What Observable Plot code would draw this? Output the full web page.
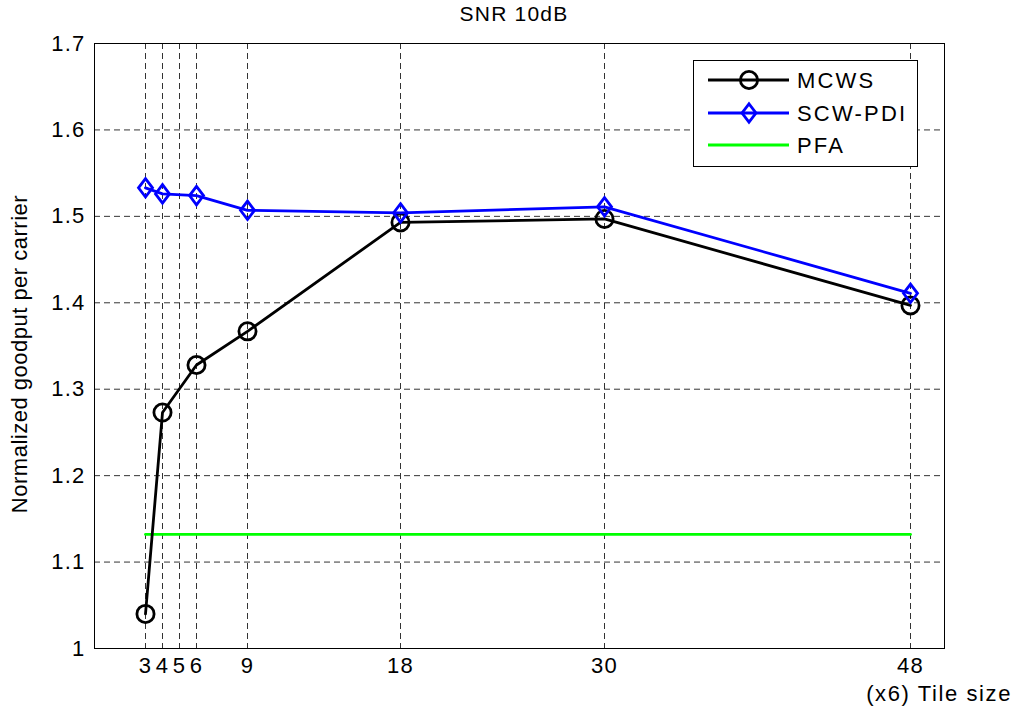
<!DOCTYPE html>
<html>
<head>
<meta charset="utf-8">
<script src="https://cdn.jsdelivr.net/npm/d3@7"></script>
<script src="https://cdn.jsdelivr.net/npm/@observablehq/plot@0.6"></script>
<style>
  html, body { margin: 0; padding: 0; background: #fff; }
  #chart svg { display: block; }
</style>
</head>
<body>
<div id="chart"></div>
<script>
// Tile sizes (in units of 6 subcarriers)
const tileSizes = [3, 4, 6, 9, 18, 30, 48];
const xTicks = [3, 4, 5, 6, 9, 18, 30, 48];
const yTicks = [1, 1.1, 1.2, 1.3, 1.4, 1.5, 1.6, 1.7];

// Normalized goodput per carrier at SNR 10 dB
const mcws   = [1.040, 1.273, 1.328, 1.367, 1.493, 1.497, 1.397];
const scwPdi = [1.533, 1.526, 1.524, 1.507, 1.504, 1.511, 1.411];
const pfa    = 1.132;

const seriesNames = ["MCWS", "SCW-PDI", "PFA"];
const seriesColors = ["#000000", "#0000ff", "#00ff00"];

const mcwsData = tileSizes.map((x, i) => ({x, y: mcws[i]}));
const scwData = tileSizes.map((x, i) => ({x, y: scwPdi[i]}));
const pfaData = [{x: tileSizes[0], y: pfa}, {x: tileSizes[tileSizes.length - 1], y: pfa}];

const W = 1012, H = 715;
const font = "'Liberation Sans', Arial, Helvetica, sans-serif";
const dash = "6,4";
const lw = 2.8;

// Slightly tall diamond marker
const tallDiamond = {
  draw(ctx, size) {
    const r = Math.sqrt(size / Math.PI);
    const hw = 0.875 * r, hh = 1.15 * r;
    ctx.moveTo(0, -hh);
    ctx.lineTo(hw, 0);
    ctx.lineTo(0, hh);
    ctx.lineTo(-hw, 0);
    ctx.closePath();
  }
};

const chart = Plot.plot({
  width: W,
  height: H,
  marginLeft: 94,
  marginRight: 68,
  marginTop: 43,
  marginBottom: 67,
  style: {fontFamily: font, fontSize: "22px", letterSpacing: "1.2px", background: "#fff", color: "#000"},
  x: {domain: [0, 50], ticks: xTicks, tickSize: 0, tickPadding: 9, label: null},
  y: {domain: [1, 1.7], ticks: yTicks, tickSize: 0, tickPadding: 9, label: null,
      tickFormat: d => (Math.round(d * 10) / 10).toString()},
  marks: [
    Plot.ruleY(yTicks.slice(1, -1), {stroke: "#000", strokeWidth: 1, strokeDasharray: dash, strokeOpacity: 0.8}),
    Plot.ruleX(xTicks, {stroke: "#000", strokeWidth: 1, strokeDasharray: dash, strokeOpacity: 0.8}),
    Plot.line(pfaData, {x: "x", y: "y", stroke: seriesColors[2], strokeWidth: lw}),
    Plot.line(mcwsData, {x: "x", y: "y", stroke: seriesColors[0], strokeWidth: lw, curve: "linear"}),
    Plot.dot(mcwsData, {x: "x", y: "y", r: 8.6, stroke: seriesColors[0], strokeWidth: lw, fill: "none"}),
    Plot.line(scwData, {x: "x", y: "y", stroke: seriesColors[1], strokeWidth: lw, curve: "linear"}),
    Plot.dot(scwData, {x: "x", y: "y", r: 8, symbol: tallDiamond, stroke: seriesColors[1], strokeWidth: lw, fill: "none"}),
    Plot.frame({stroke: "#000", strokeWidth: 1})
  ]
});

const svg = d3.select(chart);

// Title and axis captions
svg.append("text").attr("x", 514).attr("y", 21).attr("text-anchor", "middle")
  .style("font-family", font).style("font-size", "21px").style("letter-spacing", "1.2px").text("SNR 10dB");
svg.append("text").attr("transform", "translate(27,354) rotate(-90)").attr("text-anchor", "middle")
  .style("font-family", font).style("font-size", "22px").style("letter-spacing", "0.5px").text("Normalized goodput per carrier");
svg.append("text").attr("x", 1012).attr("y", 701).attr("text-anchor", "end")
  .style("font-family", font).style("font-size", "22px").style("letter-spacing", "1.6px").text("(x6) Tile size");

// Legend box
const lg = svg.append("g");
lg.append("rect").attr("x", 693.5).attr("y", 60.5).attr("width", 224).attr("height", 106)
  .attr("fill", "#fff").attr("stroke", "#000").attr("stroke-width", 1);
const rowsY = [80, 113, 145];
seriesNames.forEach((name, i) => {
  const y = rowsY[i];
  lg.append("line").attr("x1", 708).attr("x2", 789).attr("y1", y).attr("y2", y)
    .attr("stroke", seriesColors[i]).attr("stroke-width", lw);
  if (i === 0) {
    lg.append("circle").attr("cx", 749).attr("cy", y).attr("r", 8.6)
      .attr("fill", "none").attr("stroke", seriesColors[i]).attr("stroke-width", lw);
  } else if (i === 1) {
    lg.append("path").attr("d", `M749,${y - 9.2}L756,${y}L749,${y + 9.2}L742,${y}Z`)
      .attr("fill", "none").attr("stroke", seriesColors[i]).attr("stroke-width", lw);
  }
  lg.append("text").attr("x", 797).attr("y", y + 7.5).attr("text-anchor", "start")
    .style("font-family", font).style("font-size", "22px").style("letter-spacing", "2.2px")
    .text(name);
});

document.getElementById("chart").appendChild(chart);
</script>
</body>
</html>
